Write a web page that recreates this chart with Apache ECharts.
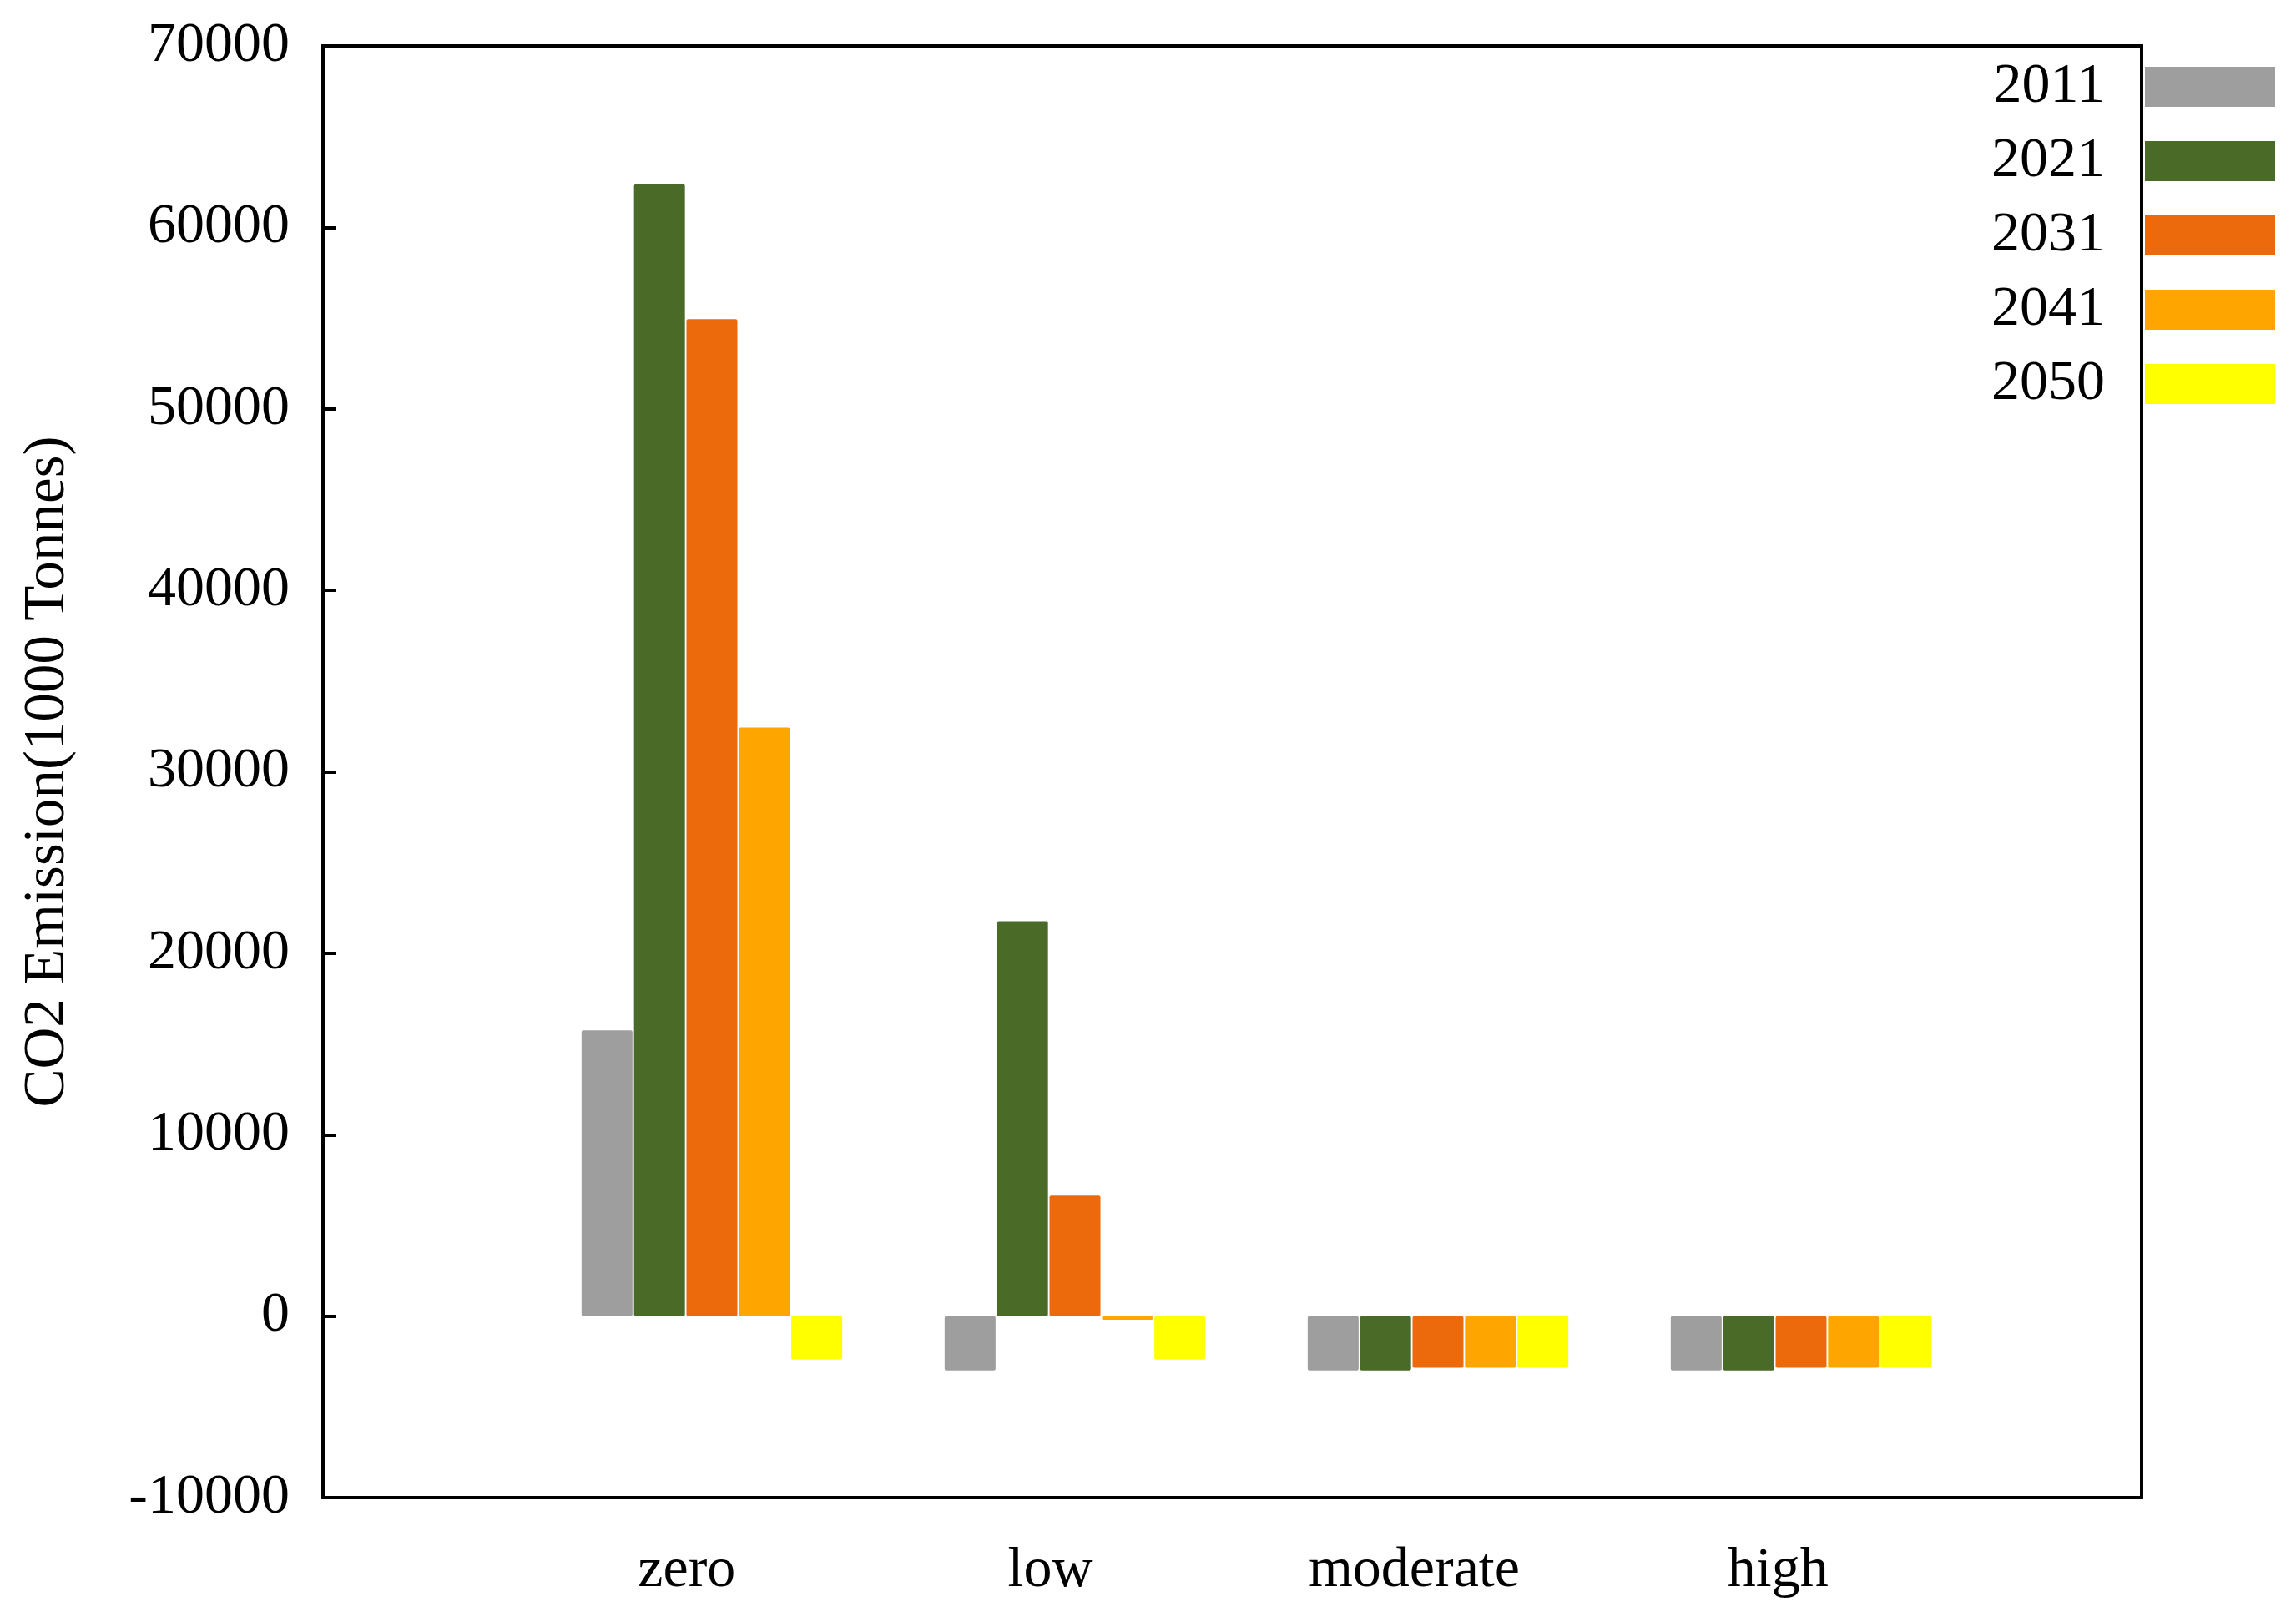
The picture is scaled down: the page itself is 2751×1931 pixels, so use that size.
<!DOCTYPE html>
<html>
<head>
<meta charset="utf-8">
<script src="https://cdn.jsdelivr.net/npm/echarts@6/dist/echarts.min.js"></script>
<style>
html,body{margin:0;padding:0;background:#fff;}
#chart{width:2751px;height:1931px;}
</style>
</head>
<body>
<div id="chart"></div>
<script>
const categories = ['', 'zero', 'low', 'moderate', 'high', ''];
const years = ['2011', '2021', '2031', '2041', '2050'];
const v2011 = [null, 15750, -3000, -3000, -3000, null];
const v2021 = [null, 62370, 21770, -3000, -3000, null];
const v2031 = [null, 54940, 6640, -2850, -2850, null];
const v2041 = [null, 32440, -200, -2850, -2850, null];
const v2050 = [null, -2400, -2400, -2850, -2850, null];
const yTicks = { min: -10000, max: 70000, interval: 10000 };
const colors = ['#9E9E9E', '#4A6B27', '#ED6A0C', '#FFA500', '#FFFF00'];
const seriesValues = [v2011, v2021, v2031, v2041, v2050];

const font = 'Liberation Serif';
const chart = echarts.init(document.getElementById('chart'));

const series = years.map((y, i) => ({
  name: y,
  type: 'bar',
  xAxisIndex: 1,
  yAxisIndex: 1,
  data: seriesValues[i],
  barWidth: 61,
  barGap: '3%',
  itemStyle: { color: colors[i], borderRadius: 2 }
}));

chart.setOption({
  animation: false,
  backgroundColor: '#fff',
  color: colors,
  grid: [
    { left: 387, right: 185, top: 55, bottom: 137, show: true, borderColor: '#000', borderWidth: 4, backgroundColor: 'transparent' },
    { left: 418, right: 158, top: 55, bottom: 137 }
  ],
  legend: {
    data: years,
    orient: 'vertical',
    right: 20,
    top: 65,
    align: 'right',
    icon: 'rect',
    itemWidth: 156,
    itemHeight: 48,
    itemGap: 21,
    textStyle: { fontFamily: font, fontSize: 68, color: '#000', padding: [0, 43, 0, 0] }
  },
  xAxis: [
    {
      type: 'category', gridIndex: 0, data: categories, boundaryGap: false,
      axisLine: { show: true, onZero: false, lineStyle: { color: '#000', width: 4 } },
      axisTick: { show: false },
      axisLabel: { fontFamily: font, fontSize: 68, color: '#000', margin: 54, interval: 0 },
      splitLine: { show: false }
    },
    {
      type: 'category', gridIndex: 1, data: categories, boundaryGap: false, show: false,
      axisLine: { onZero: false }
    }
  ],
  yAxis: [
    {
      type: 'value', gridIndex: 0, min: yTicks.min, max: yTicks.max, interval: yTicks.interval,
      name: 'CO2 Emission(1000 Tonnes)', nameLocation: 'middle', nameGap: 295,
      nameTextStyle: { fontFamily: font, fontSize: 69, color: '#000' },
      axisLine: { show: true, lineStyle: { color: '#000', width: 4 } },
      axisTick: { show: true, inside: true, length: 15, lineStyle: { color: '#000', width: 4 } },
      axisLabel: { fontFamily: font, fontSize: 68, color: '#000', margin: 40, formatter: v => String(v) },
      splitLine: { show: false }
    },
    {
      type: 'value', gridIndex: 1, min: yTicks.min, max: yTicks.max, interval: yTicks.interval, show: false,
      splitLine: { show: false }
    }
  ],
  series: series
});
</script>
</body>
</html>
